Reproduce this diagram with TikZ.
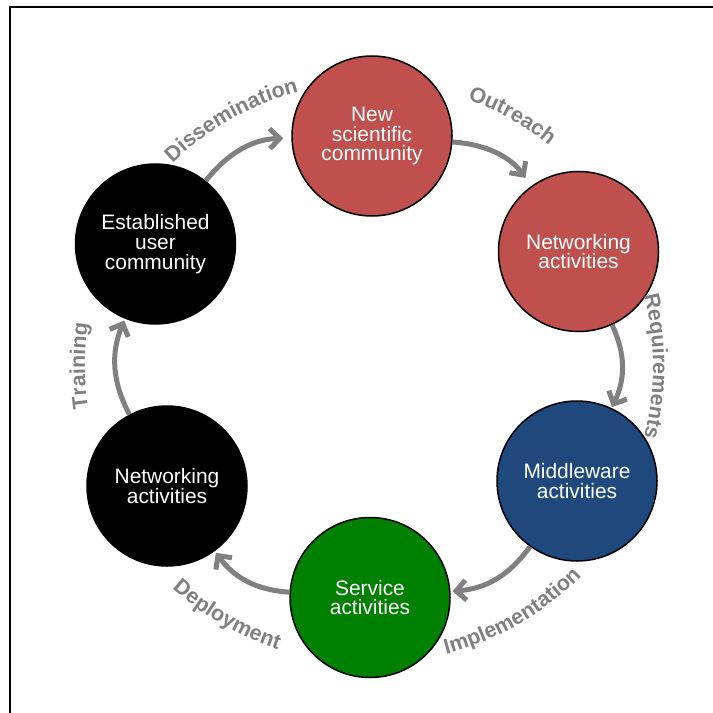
\documentclass[tikz,border=0pt]{standalone}
\usepackage{fontspec}
\setmainfont{Liberation Sans}
\usetikzlibrary{arrows.meta,decorations.text}
\definecolor{cred}{RGB}{192,80,77}
\definecolor{cblue}{RGB}{31,73,125}
\definecolor{cgreen}{RGB}{0,128,0}
\definecolor{arrgray}{RGB}{128,128,128}
\definecolor{lblgray}{RGB}{128,128,128}
\newcommand\circfont{\fontsize{21}{20}\selectfont}
\newcommand\lblfont{\bfseries\fontsize{21.5}{21.5}\selectfont}
\begin{document}
\begin{tikzpicture}[x=1bp,y=1bp,
  stage/.style={circle, draw=black, line width=1.5bp, minimum size=160bp, inner sep=0pt,
    text=white, font=\circfont, align=center},
  flow/.style={draw=arrgray, line width=5bp, -{Straight Barb[length=10bp,width=20bp]}},
  lbltext/.style={decorate, decoration={text along path,
    text={|\lblfont\color{lblgray}|#1}, text align=center}}]
\useasboundingbox (0,0) rectangle (713,-713);
\begin{scope}
\clip (0,0) rectangle (713,-713);
\draw[line width=1.5bp] (10,-7) rectangle (740,-740);
\end{scope}
\coordinate (O) at (370,-366);
\node[stage, fill=cred] (new) at (372,-136) {New\\scientific\\community};
\node[stage, fill=cred] (netr) at (578.5,-251.5) {Networking\\activities};
\node[stage, fill=cblue] (mid) at (577,-481) {Middleware\\activities};
\node[stage, fill=cgreen] (svc) at (370,-597.5) {Service\\activities};
\node[stage, fill=black] (netb) at (167,-486) {Networking\\activities};
\node[stage, fill=black] (est) at (155.5,-244) {Established\\user\\community};

\draw[flow, shorten >=8bp] (est) to[bend left=25] (new);
\draw[flow, shorten >=10bp] (new) to[bend left=25] (netr);
\draw[flow, shorten >=1bp] (netr) to[bend left=25] (mid);
\draw[flow, shorten >=2bp] (mid) to[bend left=25] (svc);
\draw[flow, shorten >=2bp] (svc) to[bend left=25] (netb);
\draw[flow, shorten >=2bp] (netb) to[bend left=25] (est);

\begin{scope}[shift={(O)}]
\path[lbltext={Dissemination}] (164.4:283) arc[start angle=164.4, end angle=74.4, radius=283];
\path[lbltext={Outreach}] (105.4:284) arc[start angle=105.4, end angle=15.4, radius=284];
\path[lbltext={Requirements}] (45:283) arc[start angle=45, end angle=-45, radius=283];
\path[lbltext={Implementation}] (-105:298) arc[start angle=-105, end angle=-15, radius=298];
\path[lbltext={Deployment}] (-164.8:298) arc[start angle=-164.8, end angle=-74.8, radius=298];
\path[lbltext={Training}] (225:285) arc[start angle=225, end angle=135, radius=285];
\end{scope}
\end{tikzpicture}
\end{document}
